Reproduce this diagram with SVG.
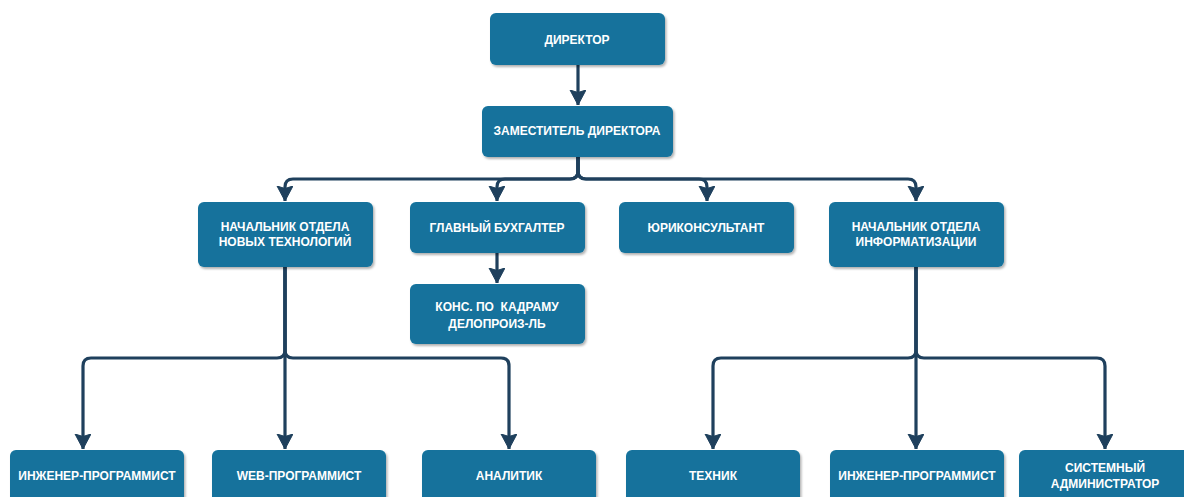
<svg xmlns="http://www.w3.org/2000/svg" width="1184" height="497" viewBox="0 0 1184 497">
  <defs>
    <style>
      .box { fill: #13729c; filter: url(#shadow); }
      .lbl { fill: #ffffff; font-family: "Liberation Sans", Arial, sans-serif; font-weight: bold; font-size: 12px; text-anchor: middle; dominant-baseline: central; white-space: pre; }
      .edge { fill: none; stroke: #1f405d; stroke-width: 3.2; stroke-linejoin: round; marker-end: url(#arrow); }
    </style>
    <filter id="shadow" x="-10%" y="-10%" width="130%" height="140%">
      <feDropShadow dx="1.5" dy="2" stdDeviation="1.2" flood-color="#000" flood-opacity="0.3"/>
    </filter>
    <marker id="arrow" markerUnits="userSpaceOnUse" markerWidth="18" markerHeight="18" refX="15" refY="8" orient="auto">
      <path d="M0,0 L15,8 L0,16 L2.5,8 z" fill="#1f405d" stroke="#1f405d" stroke-width="1" stroke-linejoin="round"/>
    </marker>
  </defs>

  <g id="connectors">
    <path class="edge" d="M578 65 L578 105"/>
    <!-- deputy to second level -->
    <path class="edge" d="M578 157 L578 171 Q578 179 570 179 L293 179 Q285 179 285 187 L285 201"/>
    <path class="edge" d="M578 157 L578 171 Q578 179 570 179 L505 179 Q497 179 497 187 L497 201"/>
    <path class="edge" d="M578 157 L578 171 Q578 179 586 179 L699 179 Q707 179 707 187 L707 201"/>
    <path class="edge" d="M578 157 L578 171 Q578 179 586 179 L908 179 Q916 179 916 187 L916 201"/>
    <path class="edge" d="M497 253 L497 283"/>
    <!-- new technologies department -->
    <path class="edge" d="M285 267 L285 350 Q285 358 277 358 L91 358 Q83 358 83 366 L83 449"/>
    <path class="edge" d="M285 267 L285 449"/>
    <path class="edge" d="M285 267 L285 350 Q285 358 293 358 L501 358 Q509 358 509 366 L509 449"/>
    <!-- informatization department -->
    <path class="edge" d="M916 267 L916 350 Q916 358 908 358 L721 358 Q713 358 713 366 L713 449"/>
    <path class="edge" d="M916 267 L916 449"/>
    <path class="edge" d="M916 267 L916 350 Q916 358 924 358 L1097 358 Q1105 358 1105 366 L1105 449"/>
  </g>

  <g id="director">
    <rect class="box" x="490" y="13" width="175" height="52" rx="6"/>
    <text class="lbl" x="577" y="40">ДИРЕКТОР</text>
  </g>
  <g id="deputy">
    <rect class="box" x="482" y="106" width="191" height="51" rx="6"/>
    <text class="lbl" x="577" y="131">ЗАМЕСТИТЕЛЬ ДИРЕКТОРА</text>
  </g>
  <g id="head-new-tech">
    <rect class="box" x="198" y="202" width="175" height="65" rx="6"/>
    <text class="lbl" x="285" y="227">НАЧАЛЬНИК ОТДЕЛА</text>
    <text class="lbl" x="285" y="242">НОВЫХ ТЕХНОЛОГИЙ</text>
  </g>
  <g id="chief-accountant">
    <rect class="box" x="410" y="202" width="175" height="51" rx="6"/>
    <text class="lbl" x="497" y="228">ГЛАВНЫЙ БУХГАЛТЕР</text>
  </g>
  <g id="hr-consultant">
    <rect class="box" x="410" y="284" width="175" height="60" rx="6"/>
    <text class="lbl" x="497" y="307">КОНС. ПО  КАДРАМУ</text>
    <text class="lbl" x="497" y="324">ДЕЛОПРОИЗ-ЛЬ</text>
  </g>
  <g id="legal-adviser">
    <rect class="box" x="619" y="202" width="175" height="51" rx="6"/>
    <text class="lbl" x="706" y="228">ЮРИКОНСУЛЬТАНТ</text>
  </g>
  <g id="head-informatization">
    <rect class="box" x="829" y="202" width="175" height="65" rx="6"/>
    <text class="lbl" x="916" y="227">НАЧАЛЬНИК ОТДЕЛА</text>
    <text class="lbl" x="916" y="242">ИНФОРМАТИЗАЦИИ</text>
  </g>

  <g id="software-engineer-1">
    <rect class="box" x="10" y="450" width="174" height="60" rx="6"/>
    <text class="lbl" x="97" y="476">ИНЖЕНЕР-ПРОГРАММИСТ</text>
  </g>
  <g id="web-programmer">
    <rect class="box" x="212" y="450" width="174" height="60" rx="6"/>
    <text class="lbl" x="299" y="476">WEB-ПРОГРАММИСТ</text>
  </g>
  <g id="analyst">
    <rect class="box" x="422" y="450" width="174" height="60" rx="6"/>
    <text class="lbl" x="509" y="476">АНАЛИТИК</text>
  </g>
  <g id="technician">
    <rect class="box" x="626" y="450" width="174" height="60" rx="6"/>
    <text class="lbl" x="713" y="476">ТЕХНИК</text>
  </g>
  <g id="software-engineer-2">
    <rect class="box" x="830" y="450" width="174" height="60" rx="6"/>
    <text class="lbl" x="917" y="476">ИНЖЕНЕР-ПРОГРАММИСТ</text>
  </g>
  <g id="sysadmin">
    <rect class="box" x="1019" y="450" width="175" height="60" rx="6"/>
    <text class="lbl" x="1105" y="468">СИСТЕМНЫЙ</text>
    <text class="lbl" x="1105" y="484">АДМИНИСТРАТОР</text>
  </g>
</svg>
